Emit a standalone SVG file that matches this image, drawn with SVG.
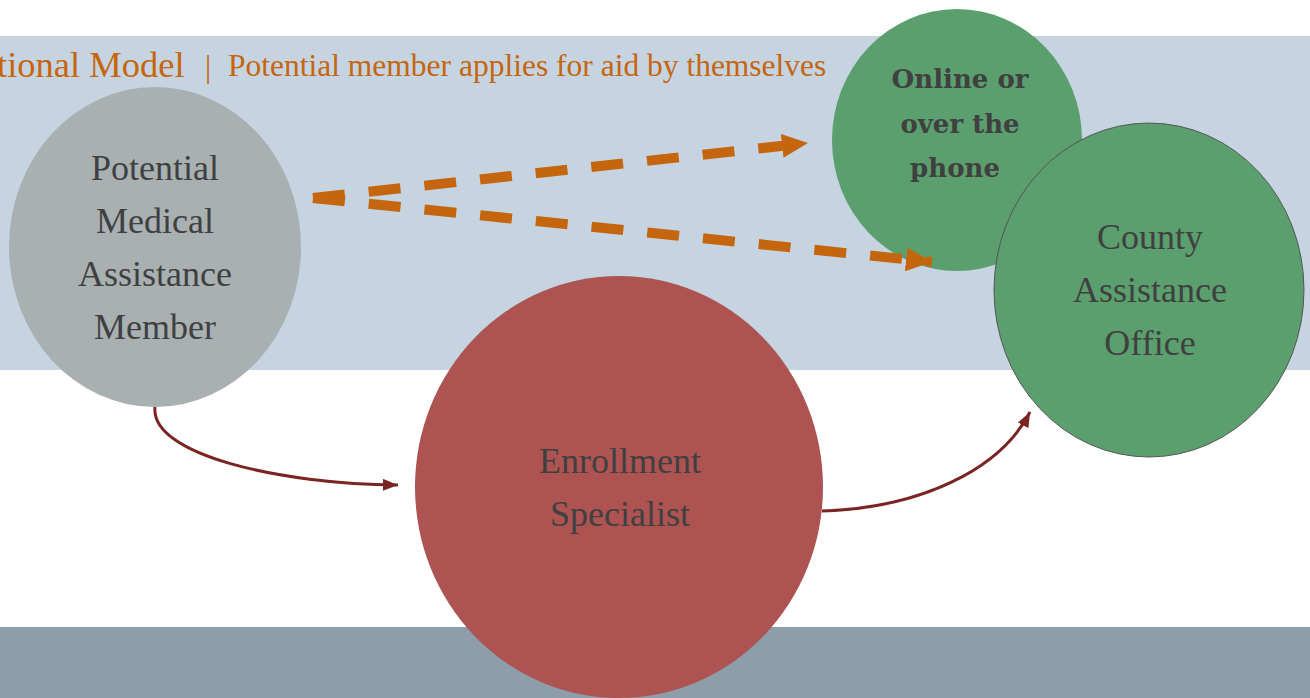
<svg xmlns="http://www.w3.org/2000/svg" width="1310" height="698" viewBox="0 0 1310 698">
<defs>
<style>
.lbl{font-family:"Liberation Serif","Times New Roman",serif;font-size:36px;fill:#404040;text-anchor:middle}
.bold{font-family:"DejaVu Serif","Liberation Serif",serif;font-weight:bold;font-size:26px;fill:#404040;text-anchor:middle}
.title{font-family:"Liberation Serif","Times New Roman",serif;fill:#c5660f}
.dash{fill:none;stroke:#c5660f;stroke-width:10;stroke-dasharray:32 24}
.curve{fill:none;stroke:#7b2523;stroke-width:3}
</style>
<marker id="oarrow" markerUnits="userSpaceOnUse" markerWidth="28" markerHeight="24" refX="26" refY="12" orient="auto" viewBox="0 0 28 24">
<path d="M0,0 L26,12 L0,24 Z" fill="#c5660f"/>
</marker>
<marker id="rarrow" markerUnits="userSpaceOnUse" markerWidth="16" markerHeight="12" refX="15" refY="6" orient="auto" viewBox="0 0 16 12">
<path d="M0,0 L15,6 L0,12 Z" fill="#7b2523"/>
</marker>
</defs>
<rect x="0" y="0" width="1310" height="698" fill="#ffffff"/>
<rect x="0" y="36" width="1310" height="334" fill="#c6d4e1"/>
<rect x="0" y="627" width="1310" height="71" fill="#8d9da9"/>
<g id="title">
<text class="title" x="-3" y="77" font-size="36.5">tional Model</text>
<text class="title" x="205" y="77" font-size="31">|</text>
<text class="title" x="228" y="76" font-size="31.5">Potential member applies for aid by themselves</text>
</g>
<g id="node-member">
<ellipse cx="155" cy="247" rx="146" ry="160" fill="#a8b0b1"/>
<text class="lbl" x="155" y="180">Potential</text>
<text class="lbl" x="155" y="233">Medical</text>
<text class="lbl" x="155" y="286">Assistance</text>
<text class="lbl" x="155" y="339">Member</text>
</g>
<g id="node-specialist">
<ellipse cx="619" cy="487" rx="204" ry="211" fill="#ad5352"/>
<text class="lbl" x="620" y="473">Enrollment</text>
<text class="lbl" x="620" y="526">Specialist</text>
</g>
<g id="node-online">
<ellipse cx="957" cy="140" rx="125" ry="131" fill="#5a9f6d"/>
<text class="bold" x="960" y="88">Online or</text>
<text class="bold" x="960" y="133">over the</text>
<text class="bold" x="955" y="177">phone</text>
</g>
<g id="node-county">
<ellipse cx="1149" cy="290" rx="155" ry="167" fill="#5a9f6d" stroke="#555" stroke-width="1"/>
<text class="lbl" x="1150" y="249">County</text>
<text class="lbl" x="1150" y="302">Assistance</text>
<text class="lbl" x="1150" y="355">Office</text>
</g>
<g id="connectors">
<path class="dash" d="M313,198 L808,143" marker-end="url(#oarrow)"/>
<path class="dash" d="M313,198 L932,262" marker-end="url(#oarrow)"/>
<path class="curve" d="M155,407 C150,455 280,484 398,485" marker-end="url(#rarrow)"/>
<path class="curve" d="M822,511 C920,508 1000,470 1030,412" marker-end="url(#rarrow)"/>
</g>
</svg>
